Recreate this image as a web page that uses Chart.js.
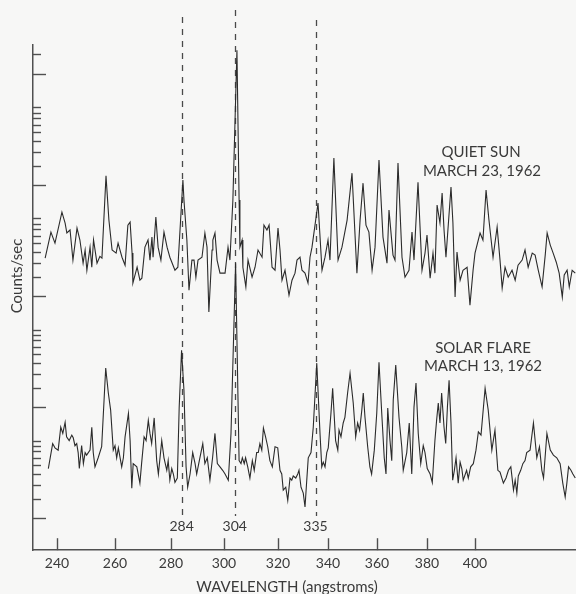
<!DOCTYPE html>
<html>
<head>
<meta charset="utf-8">
<script src="https://cdn.jsdelivr.net/npm/chart.js@4.4.1/dist/chart.umd.min.js"></script>
<style>
  html, body { margin: 0; padding: 0; background: #f7f7f6; }
  #wrap { width: 576px; height: 594px; }
</style>
</head>
<body>
<div id="wrap"><canvas id="spectrum" width="576" height="594"></canvas></div>
<script>
// Quiet sun, March 23 1962 (wavelength in angstroms, counts/sec on the log scale)
const quietWl = [
  235.9, 237.9, 239.3, 241.7, 242.8, 243.4, 244.5, 245.5, 246.9, 247.9,
  249.0, 249.7, 250.3, 251.4, 252.0, 252.6, 253.8, 254.8, 255.5, 256.9,
  257.9, 259.0, 260.4, 261.1, 262.5, 263.6, 264.6, 265.4, 266.1, 266.4,
  267.9, 268.9, 269.6, 270.7, 271.8, 272.5, 273.2, 273.6, 274.6, 275.4,
  276.4, 277.5, 278.6, 279.6, 281.5, 282.6, 284.5, 284.9, 286.0, 286.8,
  287.9, 288.7, 289.4, 290.2, 291.7, 292.8, 293.6, 294.3, 295.5, 295.8,
  296.6, 297.4, 298.5, 300.4, 301.5, 302.2, 303.3, 304.8, 305.6, 305.9,
  306.7, 307.0, 308.1, 308.9, 310.4, 311.5, 312.6, 314.1, 314.8, 315.9,
  316.7, 317.8, 318.9, 320.0, 320.8, 321.6, 322.8, 324.4, 325.6, 326.8,
  327.6, 328.8, 329.6, 330.8, 332.0, 332.8, 333.6, 336.0, 337.6, 338.8,
  340.0, 340.8, 342.4, 344.1, 345.7, 347.8, 349.8, 351.8, 353.1, 354.3,
  355.5, 356.7, 358.0, 359.2, 360.8, 362.4, 364.0, 364.8, 366.4, 367.2,
  368.4, 370.0, 371.2, 372.8, 374.0, 374.8, 376.4, 378.0, 379.2, 380.0,
  381.3, 382.5, 383.3, 384.2, 385.4, 386.3, 387.1, 387.9, 390.0, 390.8,
  391.7, 392.5, 393.8, 395.0, 396.7, 397.9, 399.2, 400.0, 402.1, 403.3,
  404.6, 405.8, 407.5, 409.2, 410.4, 411.3, 412.5, 413.8, 415.4, 416.7,
  417.9, 419.6, 420.8, 422.1, 423.8, 425.0, 426.3, 427.9, 429.2, 430.0,
  431.3, 432.5, 433.8, 435.0, 436.3, 437.1, 438.3, 439.2, 440.4, 441.7
];
const quietCounts = [
  220, 377, 300, 571, 455, 370, 394, 211, 410, 320,
  198, 260, 171, 276, 182, 320, 198, 228, 220, 1210,
  484, 260, 244, 300, 224, 190, 436, 464, 244, 131,
  182, 139, 145, 276, 320, 211, 340, 224, 515, 276,
  211, 377, 276, 224, 171, 182, 1110, 733, 320, 113,
  211, 211, 148, 211, 224, 370, 276, 72, 260, 320,
  370, 211, 161, 161, 276, 211, 733, 16400, 733, 276,
  320, 182, 121, 211, 148, 182, 260, 224, 436, 394,
  436, 182, 171, 410, 260, 139, 171, 102, 139, 161,
  211, 224, 171, 161, 131, 224, 276, 689, 171, 224,
  320, 211, 1750, 211, 276, 484, 1280, 161, 484, 1040,
  436, 377, 171, 276, 1680, 340, 198, 595, 234, 211,
  1580, 224, 148, 171, 377, 211, 1060, 171, 244, 355,
  145, 244, 161, 661, 455, 847, 394, 224, 959, 455,
  98, 249, 139, 171, 182, 83, 171, 244, 370, 320,
  901, 484, 224, 419, 211, 118, 182, 148, 171, 139,
  190, 211, 260, 182, 244, 234, 171, 121, 234, 370,
  288, 244, 202, 161, 98, 155, 171, 121, 171, 161
];

// Solar flare, March 13 1962
const flareWl = [
  237.0, 238.5, 239.3, 240.4, 241.3, 242.0, 242.8, 243.3, 244.2, 245.1,
  245.6, 246.2, 246.8, 247.3, 247.7, 248.5, 249.1, 249.7, 250.2, 251.4,
  252.0, 252.5, 253.1, 254.2, 255.4, 256.8, 257.7, 258.5, 259.4, 260.0,
  260.6, 261.2, 262.4, 263.0, 263.6, 264.8, 265.4, 266.0, 266.5, 267.8,
  268.9, 269.5, 270.4, 271.1, 271.9, 272.5, 273.1, 274.0, 274.9, 275.5,
  276.7, 277.5, 278.5, 279.0, 279.6, 280.3, 280.9, 281.5, 282.4, 283.1,
  284.0, 284.9, 285.7, 286.3, 287.2, 288.2, 289.1, 289.7, 290.7, 292.0,
  292.8, 293.7, 294.7, 295.7, 296.6, 297.5, 298.5, 299.5, 300.4, 301.6,
  302.6, 304.3, 305.6, 306.3, 306.8, 307.5, 308.0, 308.8, 309.6, 310.5,
  311.2, 312.1, 312.7, 313.3, 314.0, 314.6, 315.4, 316.2, 317.0, 317.9,
  318.9, 319.9, 320.8, 321.5, 322.1, 323.1, 323.9, 324.8, 325.5, 326.1,
  327.1, 327.9, 328.4, 329.2, 330.1, 330.8, 331.5, 332.1, 333.2, 334.1,
  335.5, 336.8, 337.5, 338.1, 338.8, 339.5, 340.1, 341.2, 341.9, 343.1,
  344.0, 344.5, 345.3, 346.2, 346.9, 348.0, 349.0, 350.3, 351.3, 352.1,
  352.9, 353.8, 354.4, 355.1, 356.2, 357.1, 357.8, 358.9, 359.9, 360.8,
  361.9, 362.9, 363.6, 364.3, 365.2, 365.9, 366.5, 367.5, 368.8, 369.9,
  370.5, 371.9, 372.9, 373.9, 374.8, 375.6, 376.5, 377.5, 378.5, 379.2,
  380.1, 381.3, 382.2, 383.3, 384.0, 384.7, 385.4, 386.1, 387.1, 387.8,
  388.5, 389.2, 390.0, 390.7, 391.4, 392.1, 393.0, 393.8, 394.5, 395.1,
  396.5, 397.2, 398.2, 399.3, 400.4, 401.4, 402.5, 404.2, 405.5, 407.0,
  408.3, 409.5, 410.4, 411.8, 412.9, 413.9, 414.9, 416.0, 416.7, 417.4,
  418.0, 419.0, 419.9, 420.8, 421.5, 422.9, 424.3, 425.7, 426.8, 427.8,
  428.5, 429.9, 431.3, 432.6, 434.0, 435.4, 436.5, 437.5, 438.2, 438.9,
  439.9, 440.7, 441.7
];
const flareCounts = [
  2.8, 4.7, 4.3, 4.1, 6.6, 5.8, 7.3, 5.4, 5.0, 5.6,
  5.3, 4.5, 4.7, 3.9, 2.8, 4.5, 3.1, 3.9, 3.7, 4.1,
  6.6, 3.9, 2.9, 3.5, 4.4, 22.5, 13.4, 9.4, 4.1, 4.5,
  3.5, 4.3, 2.9, 3.5, 5.4, 8.8, 5.0, 1.86, 3.1, 2.9,
  2.07, 3.1, 5.4, 5.0, 7.6, 5.8, 4.7, 8.0, 3.3, 2.5,
  5.0, 3.5, 2.7, 3.3, 2.2, 2.8, 2.5, 2.1, 2.3, 10.0,
  32.6, 14.2, 2.9, 1.9, 2.5, 3.9, 3.1, 2.5, 3.3, 4.7,
  3.1, 3.5, 2.2, 3.5, 5.8, 3.1, 2.9, 2.7, 2.5, 2.2,
  5.8, 198, 3.3, 3.1, 3.5, 3.1, 3.5, 2.9, 2.3, 3.3,
  2.7, 3.9, 3.9, 4.7, 4.1, 6.5, 5.4, 4.4, 3.3, 2.9,
  4.4, 4.3, 2.7, 2.5, 1.79, 1.9, 1.45, 2.3, 2.2, 2.4,
  2.3, 2.5, 2.7, 1.9, 1.68, 1.26, 2.2, 3.5, 3.9, 6.6,
  24.9, 5.8, 2.9, 3.2, 2.9, 3.9, 4.3, 8.8, 14.8, 5.0,
  4.1, 6.2, 5.4, 7.2, 8.1, 13.4, 20.2, 10.9, 5.4, 7.2,
  6.2, 9.4, 13.4, 8.1, 4.4, 2.9, 2.5, 4.1, 8.8, 25.4,
  8.8, 3.5, 2.5, 9.8, 5.0, 3.3, 11.6, 23.9, 8.1, 4.4,
  2.7, 3.9, 7.2, 2.5, 10.0, 16.5, 5.8, 3.1, 4.5, 3.9,
  2.8, 2.5, 2.1, 5.0, 7.6, 10.9, 7.2, 13.4, 6.6, 4.7,
  10.0, 17.5, 7.2, 2.2, 2.7, 3.5, 2.07, 3.2, 2.8, 2.2,
  2.7, 2.3, 2.9, 3.1, 4.1, 6.0, 5.6, 14.8, 9.4, 4.1,
  6.2, 2.7, 2.6, 2.07, 2.3, 2.7, 2.9, 1.79, 2.2, 1.68,
  2.4, 2.7, 3.1, 3.3, 3.9, 4.1, 7.2, 3.5, 4.4, 2.7,
  2.3, 5.8, 4.1, 3.7, 3.5, 3.1, 2.07, 1.55, 2.07, 2.9,
  2.7, 2.5, 2.3
];

const wavelengthTicks = [240, 260, 280, 300, 320, 340, 360, 380, 400];
const lineMarks = [284, 304, 335];
const decadeTicks = [1, 10, 100, 1000, 10000];
const minorSteps = [1.5, 2, 2.5, 3, 3.5, 4, 4.5, 5];

// The printed wavelength scale is slightly stretched at the short end,
// so place the labelled ticks where the print has them (fraction along the axis)
const axisWl = [231.7, 240, 260, 280, 300, 320, 340, 360, 380, 400, 442];
const axisFrac = [0, 0.0442, 0.1510, 0.2541, 0.3517, 0.4512, 0.5433, 0.6335, 0.7256, 0.8140, 1];

function interp(v, xs, ys) {
    let i = 1;
    while (i < xs.length - 1 && v > xs[i]) i++;
    return ys[i - 1] + (v - xs[i - 1]) * (ys[i] - ys[i - 1]) / (xs[i] - xs[i - 1]);
}

class PrintedScale extends Chart.LinearScale {
    getPixelForValue(value) {
        return this.getPixelForDecimal(interp(value, axisWl, axisFrac));
    }
    getValueForPixel(pixel) {
        return interp(this.getDecimalForPixel(pixel), axisFrac, axisWl);
    }
}
PrintedScale.id = 'printed';
PrintedScale.defaults = Chart.LinearScale.defaults;
Chart.register(PrintedScale);

const ink = '#3a3a3a';
const font = 'Lato, "Open Sans", sans-serif';

// tick marks point inward, dashed line markers and the hand-set labels
const printedMarks = {
    id: 'printedMarks',
    beforeDatasetsDraw(chart) {
        const { ctx, scales: { x } } = chart;
        const tops = [17, 10, 20];
        ctx.save();
        ctx.strokeStyle = '#4a4a4a';
        ctx.lineWidth = 1.3;
        ctx.setLineDash([6, 6]);
        lineMarks.forEach((wl, i) => {
            const px = Math.round(x.getPixelForValue(wl)) + 0.5;
            ctx.beginPath();
            ctx.moveTo(px, tops[i]);
            ctx.lineTo(px, 516);
            ctx.stroke();
        });
        ctx.restore();
    },
    afterDraw(chart) {
        const { ctx, chartArea, scales: { x, y } } = chart;
        ctx.save();
        ctx.strokeStyle = '#505050';
        ctx.lineWidth = 1.4;

        // y ticks: long at each decade, short at 1.5 ... 5
        const yTick = (v, len) => {
            if (v < y.min || v > y.max) return;
            const py = Math.round(y.getPixelForValue(v)) + 0.5;
            ctx.beginPath();
            ctx.moveTo(chartArea.left, py);
            ctx.lineTo(chartArea.left + len, py);
            ctx.stroke();
        };
        decadeTicks.forEach(d => {
            yTick(d, 13);
            minorSteps.forEach(m => yTick(d * m, 8));
        });

        wavelengthTicks.forEach(wl => {
            const px = Math.round(x.getPixelForValue(wl)) + 0.5;
            ctx.beginPath();
            ctx.moveTo(px, chartArea.bottom);
            ctx.lineTo(px, chartArea.bottom - 12);
            ctx.stroke();
        });

        ctx.fillStyle = ink;
        ctx.textAlign = 'center';
        ctx.textBaseline = 'middle';
        ctx.font = '14px ' + font;
        lineMarks.forEach(wl => ctx.fillText(String(wl), x.getPixelForValue(wl), 526));

        ctx.font = '15px ' + font;
        ctx.fillText('QUIET SUN', 481, 152);
        ctx.fillText('MARCH 23, 1962', 482, 171);
        ctx.fillText('SOLAR FLARE', 483, 348);
        ctx.fillText('MARCH 13, 1962', 483, 366);

        ctx.fillText('WAVELENGTH (angstroms)', 287, 587);

        ctx.translate(17, 276);
        ctx.rotate(-Math.PI / 2);
        ctx.fillText('Counts/sec', 0, 0);
        ctx.restore();
    }
};

const toPoints = (xs, ys) => xs.map((wl, i) => ({ x: wl, y: ys[i] }));

new Chart(document.getElementById('spectrum'), {
    type: 'line',
    data: {
        datasets: [
            { label: 'Quiet sun', data: toPoints(quietWl, quietCounts) },
            { label: 'Solar flare', data: toPoints(flareWl, flareCounts) }
        ]
    },
    options: {
        responsive: false,
        animation: false,
        devicePixelRatio: 1,
        layout: { padding: { left: 33, top: 45, right: 0, bottom: 17 } },
        elements: {
            line: { borderColor: '#2b2b2b', borderWidth: 1.1, tension: 0, fill: false },
            point: { radius: 0 }
        },
        plugins: { legend: { display: false }, tooltip: { enabled: false } },
        scales: {
            x: {
                type: 'printed',
                min: 231.7,
                max: 442,
                bounds: 'data',
                afterBuildTicks: scale => { scale.ticks = wavelengthTicks.map(v => ({ value: v })); },
                ticks: {
                    autoSkip: false,
                    maxRotation: 0,
                    padding: 5,
                    color: ink,
                    font: { family: font, size: 14 },
                    callback: v => String(v)
                },
                grid: { display: false, drawTicks: false },
                border: { display: true, color: '#505050', width: 1.5 }
            },
            y: {
                type: 'logarithmic',
                min: 0.515,
                max: 18250,
                bounds: 'data',
                ticks: { display: false },
                grid: { display: false, drawTicks: false },
                border: { display: true, color: '#505050', width: 1.5 }
            }
        }
    },
    plugins: [printedMarks]
});
</script>
</body>
</html>
